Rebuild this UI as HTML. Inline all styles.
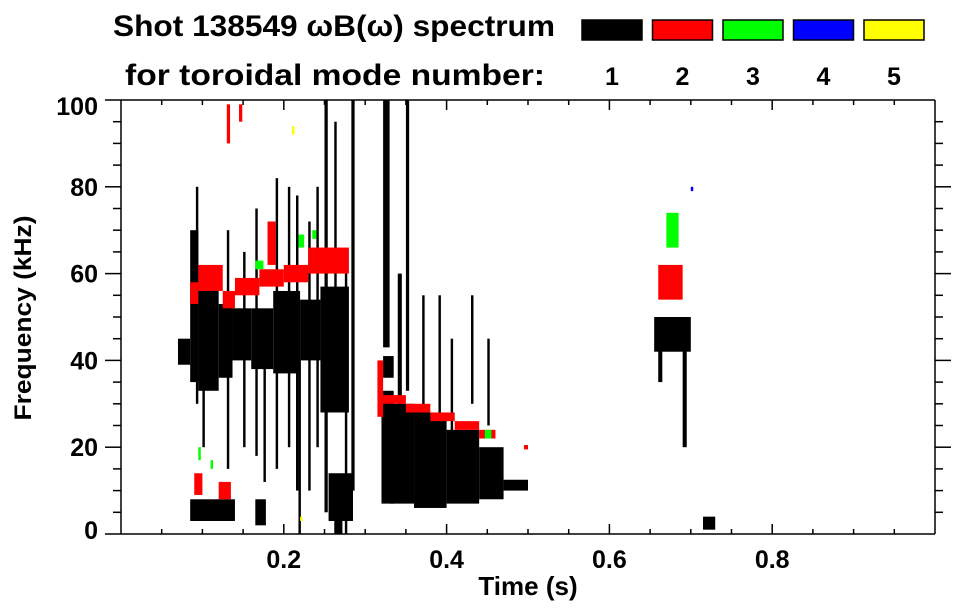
<!DOCTYPE html>
<html><head><meta charset="utf-8"><style>
body{margin:0;background:#fff;}
svg{display:block;font-family:"Liberation Sans",sans-serif;font-weight:bold;}
</style></head><body>
<svg id="chart" width="963" height="615" viewBox="0 0 963 615" xmlns="http://www.w3.org/2000/svg">
<text x="113" y="36" font-size="30" textLength="442" lengthAdjust="spacingAndGlyphs">Shot 138549 ωB(ω) spectrum</text>
<text x="125" y="85" font-size="30" textLength="420" lengthAdjust="spacingAndGlyphs">for toroidal mode number:</text>
<g id="legend"></g>
<g id="plot"></g>
<g id="axes"></g>
<text x="528" y="595" font-size="26" text-anchor="middle">Time (s)</text>
<text x="0" y="0" font-size="24" text-anchor="middle" textLength="205" lengthAdjust="spacingAndGlyphs" transform="translate(31,318) rotate(-90)">Frequency (kHz)</text>
</svg>
<script>
// axis ranges
const tMin=0, tMax=1.0, fMin=0, fMax=100;
const xTickLabels=[0.2,0.4,0.6,0.8];
const yTickLabels=[0,20,40,60,80,100];
const modeNames=['1','2','3','4','5'];
const modeColors=['#000000','#ff0000','#00ff00','#0000ff','#ffff00'];
// spectral patches: mode index, t start, t end, f low, f high
const patchMode=[0,0,0,0,0,0,0,0,0,
 0,0,0,0,0,0,0,0,0,0,0,0,0,0,0,0,
 0,0,0,0,
 0,0,0,0,0,0,0,0,0,0,0,0,0,0,0,0,0,
 1,1,1,1,1,1,1,1,1,1,1,1,1,1,1,1,1,1,1,1,
 2,2,2,2,2,2,2,3,4,4,
 0,0,0,0];
const patchT0=[0.070,0.085,0.095,0.120,0.137,0.160,0.187,0.220,0.245,
 0.092,0.100,0.130,0.150,0.165,0.175,0.190,0.205,0.215,0.230,0.240,0.250,0.262,0.275,0.283,0.218,
 0.085,0.165,0.255,0.262,
 0.322,0.350,0.340,0.370,0.390,0.405,0.430,0.450,0.322,0.322,0.320,0.360,0.400,0.440,0.470,0.330,0.345,
 0.095,0.125,0.140,0.170,0.200,0.230,0.315,0.322,0.350,0.380,0.410,0.440,0.495,0.090,0.120,0.130,0.145,0.660,0.085,0.180,
 0.165,0.218,0.235,0.095,0.110,0.447,0.670,0.700,0.220,0.210,
 0.655,0.660,0.690,0.715];
const patchT1=[0.085,0.095,0.120,0.137,0.160,0.187,0.220,0.245,0.280,
 0.095,0.103,0.133,0.153,0.168,0.178,0.193,0.208,0.218,0.233,0.243,0.254,0.265,0.278,0.287,0.221,
 0.140,0.178,0.285,0.272,
 0.330,0.354,0.345,0.373,0.393,0.408,0.433,0.453,0.335,0.335,0.360,0.400,0.440,0.470,0.500,0.336,0.349,
 0.125,0.140,0.170,0.200,0.230,0.280,0.322,0.350,0.380,0.410,0.440,0.460,0.500,0.100,0.135,0.134,0.149,0.690,0.095,0.190,
 0.175,0.225,0.240,0.098,0.113,0.455,0.685,0.703,0.223,0.213,
 0.700,0.665,0.695,0.730];
const patchLo=[39,35,33,36,40,38,37,40,28,
 30,20,15,20,18,12,15,20,10,10,20,5,30,0,10,0,
 3,2,3,0,
 43,33,20,25,22,20,30,25,36,27,7,6,7,8,10,7,12,
 56,52,55,57,58,60,27,30,28,26,24,22,19.5,9,8,90,95,54,53,62,
 61,66,68,17,15,22,66,79,3,92,
 42,35,20,1];
const patchHi=[45,70,57,53,52,52,56,54,57,
 80,45,70,65,75,40,82,80,78,72,80,100,95,60,100,40,
 8,8,14,5,
 100,100,60,55,55,45,55,45,41,33,30,28,24,20,12.5,24,22,
 62,56,59,61,62,66,40,32,30,28,26,24,20.5,14,12,99,99,62,58,72,
 63,69,70,20,17,24,74,80,4,94,
 50,50,48,4];

const NS='http://www.w3.org/2000/svg';
const L=121,R=935,T=100,B=534;
function xs(t){return L+(t-tMin)/(tMax-tMin)*(R-L);}
function ys(f){return B-(f-fMin)/(fMax-fMin)*(B-T);}
function mk(tag,attrs,parent){const e=document.createElementNS(NS,tag);for(const k in attrs)e.setAttribute(k,attrs[k]);parent.appendChild(e);return e;}

const plot=document.getElementById('plot');
for(let i=0;i<patchMode.length;i++){
  const x0=xs(patchT0[i]),x1=xs(patchT1[i]),y0=ys(patchHi[i]),y1=ys(patchLo[i]);
  const r=mk('rect',{x:x0,y:y0,width:Math.max(1,x1-x0),height:Math.max(1,y1-y0),fill:modeColors[patchMode[i]]},plot);
  
  
}

const leg=document.getElementById('legend');
for(let i=0;i<modeNames.length;i++){
  const bx=582+i*70.5;
  const r=mk('rect',{x:bx,y:20,width:60,height:20,fill:modeColors[i],stroke:'#000','stroke-width':1.5},leg);
  
  
  const t=mk('text',{x:bx+30,y:85,'font-size':25,'text-anchor':'middle'},leg);
  t.textContent=modeNames[i];
  
  
}

const ax=document.getElementById('axes');
const st={stroke:'#000','stroke-width':1.5};
const frame=mk('path',Object.assign({d:`M105 ${T}H${R}M105 ${B}H${R}M${L} ${T}V${B}M${R} ${T}V${B}`,fill:'none'},st),ax);


for(let k=1;k<20;k++){
  const t=k*0.05, x=xs(t), major=(k%4===0);
  const len=major?10:5;
  mk('line',Object.assign({x1:x,x2:x,y1:B,y2:B-len},st),ax);
  mk('line',Object.assign({x1:x,x2:x,y1:T,y2:T+len},st),ax);
}
for(const v of xTickLabels){
  const t=mk('text',{x:xs(v),y:568,'font-size':25,'text-anchor':'middle'},ax);
  t.textContent=v.toFixed(1);
  
  
}
for(let k=1;k<20;k++){
  const f=k*5,y=ys(f),major=(k%4===0);
  mk('line',Object.assign({x1:L,x2:L-(major?16:8),y1:y,y2:y},st),ax);
  mk('line',Object.assign({x1:R,x2:R+(major?16:8),y1:y,y2:y},st),ax);
}
for(const v of yTickLabels){
  const t=mk('text',{x:98,y:ys(v)+9-(v===0?4:0)+(v===100?6:0),'font-size':25,'text-anchor':'end'},ax);
  t.textContent=String(v);
  
  
}
</script>
</body></html>
